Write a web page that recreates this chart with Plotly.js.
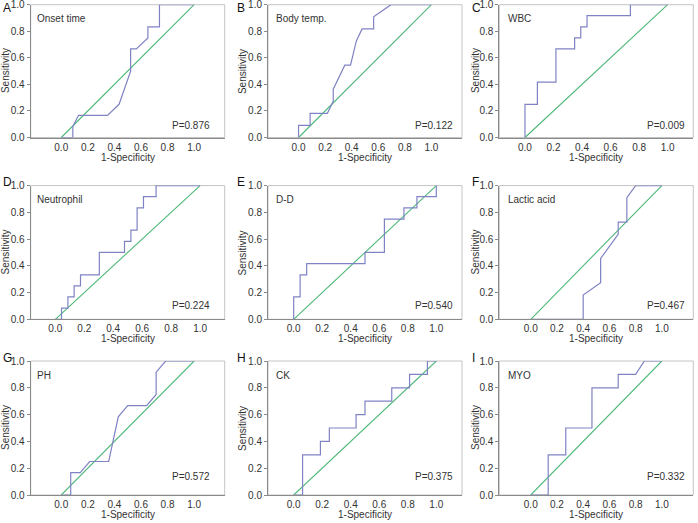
<!DOCTYPE html>
<html>
<head>
<meta charset="utf-8">
<script src="https://cdn.plot.ly/plotly-3.0.1.min.js"></script>
<style>
  html, body { margin: 0; padding: 0; background: #fff; }
  #chart { width: 698px; height: 523px; }
</style>
</head>
<body>
<div id="chart"></div>
<script>
// ROC points (1-specificity, sensitivity)
const onsetFpr = [0, 0.087, 0.087, 0.13, 0.348, 0.435, 0.522, 0.522, 0.565, 0.652, 0.652, 0.739, 0.739, 1];
const onsetTpr = [0, 0, 0.083, 0.167, 0.167, 0.25, 0.5, 0.667, 0.667, 0.75, 0.833, 0.833, 1, 1];

const bodyFpr = [0, 0, 0.087, 0.087, 0.217, 0.261, 0.261, 0.348, 0.391, 0.435, 0.478, 0.565, 0.565, 0.696, 1];
const bodyTpr = [0, 0.091, 0.091, 0.182, 0.182, 0.273, 0.364, 0.545, 0.545, 0.727, 0.818, 0.818, 0.909, 1, 1];

const wbcFpr = [0, 0, 0.087, 0.087, 0.217, 0.217, 0.348, 0.348, 0.391, 0.391, 0.435, 0.435, 0.739, 0.739, 1];
const wbcTpr = [0, 0.25, 0.25, 0.417, 0.417, 0.667, 0.667, 0.75, 0.75, 0.833, 0.833, 0.917, 0.917, 1, 1];

const neutFpr = [0, 0.043, 0.043, 0.087, 0.087, 0.13, 0.13, 0.174, 0.174, 0.304, 0.304, 0.478, 0.478, 0.522, 0.522, 0.565, 0.565, 0.609, 0.609, 0.696, 0.696, 1];
const neutTpr = [0, 0, 0.083, 0.083, 0.167, 0.167, 0.25, 0.25, 0.333, 0.333, 0.5, 0.5, 0.583, 0.583, 0.667, 0.667, 0.833, 0.833, 0.917, 0.917, 1, 1];

const ddFpr = [0, 0, 0.045, 0.045, 0.091, 0.091, 0.5, 0.5, 0.636, 0.636, 0.773, 0.773, 0.864, 0.864, 1, 1];
const ddTpr = [0, 0.167, 0.167, 0.333, 0.333, 0.417, 0.417, 0.5, 0.5, 0.75, 0.75, 0.833, 0.833, 0.917, 0.917, 1];

const lacticFpr = [0, 0.4, 0.4, 0.533, 0.533, 0.667, 0.667, 0.733, 0.733, 0.8, 1];
const lacticTpr = [0, 0, 0.182, 0.273, 0.455, 0.636, 0.727, 0.727, 0.909, 1, 1];

const phFpr = [0, 0.071, 0.071, 0.143, 0.214, 0.357, 0.429, 0.5, 0.643, 0.714, 0.714, 0.786, 1];
const phTpr = [0, 0, 0.167, 0.167, 0.25, 0.25, 0.583, 0.667, 0.667, 0.75, 0.917, 1, 1];

const ckFpr = [0, 0.0625, 0.0625, 0.1875, 0.1875, 0.25, 0.25, 0.4375, 0.4375, 0.5, 0.5, 0.6875, 0.6875, 0.8125, 0.8125, 0.9375, 0.9375, 1];
const ckTpr = [0, 0, 0.3, 0.3, 0.4, 0.4, 0.5, 0.5, 0.6, 0.6, 0.7, 0.7, 0.8, 0.8, 0.9, 0.9, 1, 1];

const myoFpr = [0, 0.133, 0.133, 0.267, 0.267, 0.467, 0.467, 0.667, 0.667, 0.8, 0.867, 1];
const myoTpr = [0, 0, 0.3, 0.3, 0.5, 0.5, 0.8, 0.8, 0.9, 0.9, 1, 1];

// reference diagonal
const refX = [0, 1];
const refY = [0, 1];

const panelLetters = ['A', 'B', 'C', 'D', 'E', 'F', 'G', 'H', 'I'];
const panelNames = ['Onset time', 'Body temp.', 'WBC', 'Neutrophil', 'D-D', 'Lactic acid', 'PH', 'CK', 'MYO'];
const pValues = ['0.876', '0.122', '0.009', '0.224', '0.540', '0.467', '0.572', '0.375', '0.332'];
const tickVals = [0, 0.2, 0.4, 0.6, 0.8, 1.0];
const tickText = ['0.0', '0.2', '0.4', '0.6', '0.8', '1.0'];

const curves = [
  [onsetFpr, onsetTpr], [bodyFpr, bodyTpr], [wbcFpr, wbcTpr],
  [neutFpr, neutTpr], [ddFpr, ddTpr], [lacticFpr, lacticTpr],
  [phFpr, phTpr], [ckFpr, ckTpr], [myoFpr, myoTpr]
];

// x padding differs a bit per panel in the original
const xPad = [0.23, 0.23, 0.18, 0.17, 0.18, 0.24, 0.23, 0.18, 0.24];

// layout in pixels
const W = 698, H = 523;
const colLeft = [30.7, 268, 499.3];
const plotW = 194;
const rowTop = [4.7, 185.6, 361];
const rowBottom = [137.5, 319.3, 495];
const letterX = [1, 235, 470];
const letterY = [8.5, 181.5, 357.5];
const nameOffset = [4.3, 5.7, 6.7];
const pRight = [212, 455, 686.5];
const pY = [125.7, 305.3, 476.5];
const sensX = [5, 242, 475];

const px = x => x / W;
const py = y => 1 - y / H;

const font = 'Liberation Sans, Arial, sans-serif';
const textColor = '#333';
const rocColor = '#7f83c3';
const refColor = '#4db878';

const data = [];
const layout = {
  width: W,
  height: H,
  margin: { t: 0, r: 0, b: 0, l: 0 },
  paper_bgcolor: '#fff',
  plot_bgcolor: '#fff',
  showlegend: false,
  font: { family: font, size: 10, color: textColor },
  annotations: [],
  shapes: []
};

curves.forEach(([fpr, tpr], i) => {
  const n = i ? String(i + 1) : '';
  const row = Math.floor(i / 3);
  const col = i % 3;
  const left = colLeft[col];
  const right = left + plotW;
  const top = rowTop[row];
  const bottom = rowBottom[row];

  data.push({
    x: refX, y: refY, xaxis: 'x' + n, yaxis: 'y' + n,
    type: 'scatter', mode: 'lines',
    line: { color: refColor, width: 1.1 },
    hoverinfo: 'skip'
  });
  data.push({
    x: fpr, y: tpr, xaxis: 'x' + n, yaxis: 'y' + n,
    type: 'scatter', mode: 'lines',
    line: { color: rocColor, width: 1.2 },
    hoverinfo: 'skip'
  });

  layout['xaxis' + n] = {
    domain: [px(left), px(right)],
    anchor: 'y' + n,
    range: [-xPad[i], 1 + xPad[i]],
    tickvals: tickVals,
    ticktext: tickText,
    ticks: '',
    showgrid: false,
    zeroline: false,
    showline: true,
    linecolor: '#8a8a8a',
    linewidth: 1,
    ticklabeloverflow: 'allow',
    tickfont: { size: 10, color: textColor }
  };
  layout['yaxis' + n] = {
    domain: [py(bottom), py(top)],
    anchor: 'x' + n,
    range: [0, 1],
    tickvals: tickVals,
    ticktext: tickText,
    ticks: 'outside',
    ticklen: 3,
    tickcolor: '#8a8a8a',
    showgrid: false,
    zeroline: false,
    showline: true,
    linecolor: '#8a8a8a',
    linewidth: 1,
    ticklabeloverflow: 'allow',
    tickfont: { size: 10, color: textColor }
  };

  // light frame round the plot area
  layout.shapes.push({
    type: 'rect', xref: 'x' + n + ' domain', yref: 'y' + n + ' domain',
    x0: 0, x1: 1, y0: 0, y1: 1,
    line: { color: '#c4c4c4', width: 1 },
    layer: 'below'
  });

  layout.annotations.push(
    {
      text: panelLetters[i], xref: 'paper', yref: 'paper',
      x: px(letterX[col]), y: py(letterY[row]),
      xanchor: 'left', yanchor: 'middle', showarrow: false,
      font: { size: 12, color: '#111' }
    },
    {
      text: panelNames[i], xref: 'paper', yref: 'paper',
      x: px(left + nameOffset[col]), y: py(top + 14),
      xanchor: 'left', yanchor: 'middle', showarrow: false,
      font: { size: 10, color: textColor }
    },
    {
      text: 'P=' + pValues[i], xref: 'paper', yref: 'paper',
      x: px(pRight[col]), y: py(pY[row]),
      xanchor: 'right', yanchor: 'middle', showarrow: false,
      font: { size: 10, color: textColor }
    },
    {
      text: 'Sensitivity', xref: 'paper', yref: 'paper',
      x: px(sensX[col]), y: py((top + bottom) / 2),
      xanchor: 'center', yanchor: 'middle', textangle: -90, showarrow: false,
      font: { size: 10, color: textColor }
    },
    {
      text: '1-Specificity', xref: 'paper', yref: 'paper',
      x: px((left + right) / 2), y: py(bottom + 19.5),
      xanchor: 'center', yanchor: 'middle', showarrow: false,
      font: { size: 10, color: textColor }
    }
  );
});

Plotly.newPlot('chart', data, layout, { staticPlot: true, displayModeBar: false });
</script>
</body>
</html>
